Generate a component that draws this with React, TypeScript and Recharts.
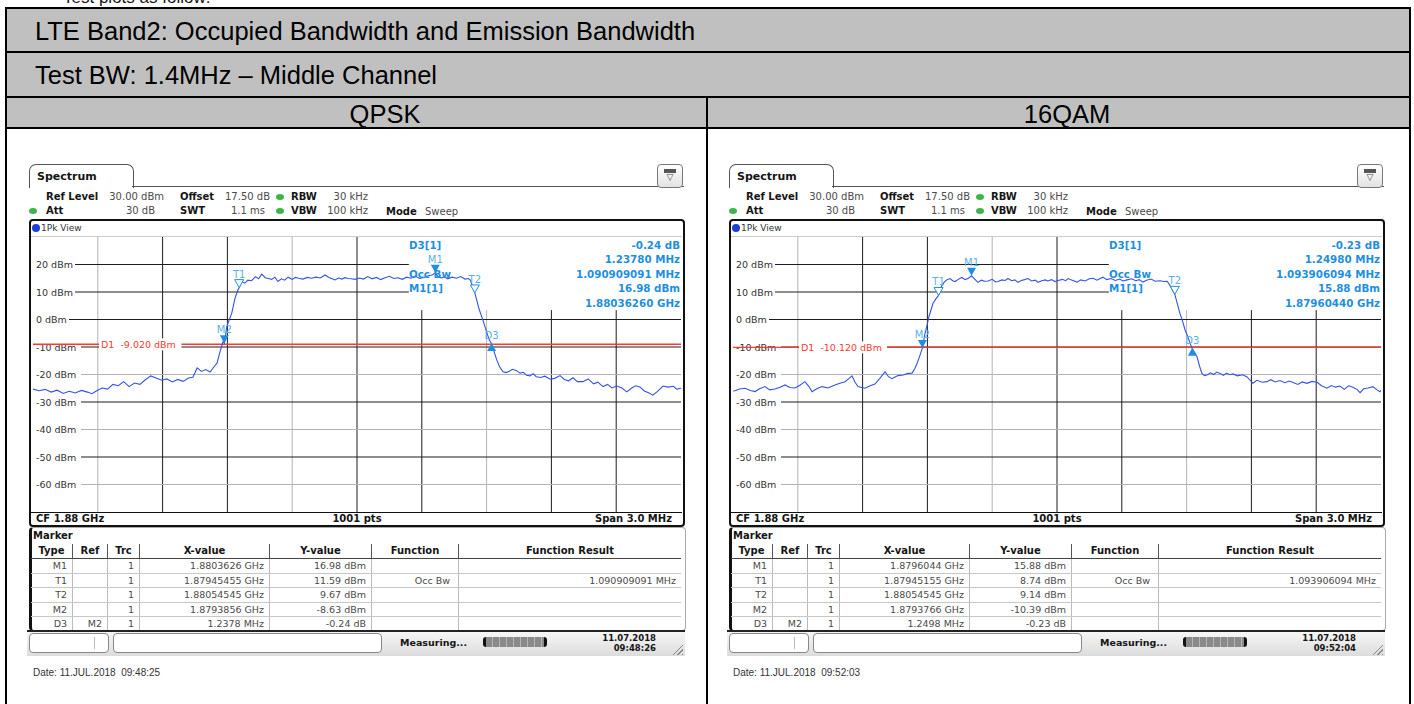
import React from "react";
import { LineChart, Line, XAxis, YAxis, ReferenceLine, ReferenceDot } from "recharts";

// Spectrum screenshots: frequency is an offset in MHz from the 1.88 GHz centre
const CENTER_GHZ = 1.88;
const SPAN_MHZ = [-1.5, 1.5];
const LEVEL_RANGE = [-70, 30];
const GRID_X = [-1.2, -0.9, -0.6, -0.3, 0, 0.3, 0.6, 0.9, 1.2];
const LEVEL_TICKS = [20, 10, 0, -10, -20, -30, -40, -50, -60];

// the marker readout box in the top right of each plot hides the grid
const INFO_LEFT_MHZ = 0.24;
const INFO_BOTTOM_DBM = 3.4;

const QPSK_TRACE: [number, number][] = [
  [-1.5, -25.3], [-1.472, -25.9], [-1.444, -25.4], [-1.416, -26.4], [-1.388, -25.7], [-1.36, -26.9],
  [-1.332, -26.1], [-1.304, -26.7], [-1.276, -25.8], [-1.248, -26.4], [-1.227, -27.0], [-1.205, -25.9],
  [-1.18, -24.9], [-1.155, -25.3], [-1.13, -23.6], [-1.105, -24.1], [-1.08, -22.6], [-1.055, -24.4],
  [-1.03, -23.1], [-1.005, -23.6], [-0.98, -21.9], [-0.955, -20.5], [-0.93, -21.3], [-0.905, -22.1],
  [-0.88, -21.6], [-0.855, -22.7], [-0.83, -21.8], [-0.805, -22.5], [-0.78, -21.3], [-0.76, -21.0],
  [-0.74, -17.6], [-0.72, -18.9], [-0.7, -18.2], [-0.68, -19.1], [-0.66, -17.0], [-0.648, -15.9],
  [-0.634, -11.7], [-0.62, -8.0], [-0.614, -8.63], [-0.603, -2.6], [-0.592, -0.2], [-0.58, 2.2],
  [-0.565, 7.7], [-0.552, 10.6], [-0.545, 11.59], [-0.534, 13.7], [-0.52, 13.2], [-0.505, 14.3],
  [-0.488, 14.1], [-0.47, 15.6], [-0.455, 14.8], [-0.441, 16.5], [-0.425, 15.2], [-0.41, 14.9],
  [-0.395, 14.6], [-0.38, 15.4], [-0.366, 13.8], [-0.35, 14.8], [-0.335, 14.3], [-0.319, 15.4],
  [-0.3, 14.6], [-0.285, 15.3], [-0.27, 15.0], [-0.25, 14.7], [-0.23, 15.3], [-0.21, 15.0],
  [-0.19, 15.4], [-0.17, 15.1], [-0.148, 16.2], [-0.13, 15.3], [-0.115, 14.8], [-0.102, 14.4],
  [-0.085, 15.1], [-0.07, 14.7], [-0.056, 15.2], [-0.04, 14.9], [-0.025, 14.8], [-0.009, 14.6],
  [0.01, 15.1], [0.03, 14.7], [0.05, 15.6], [0.07, 14.8], [0.09, 15.3], [0.11, 14.5],
  [0.13, 15.2], [0.15, 15.7], [0.17, 14.9], [0.19, 15.2], [0.21, 14.6], [0.23, 15.4],
  [0.25, 15.0], [0.27, 15.8], [0.29, 14.9], [0.31, 15.3], [0.33, 15.9], [0.35, 16.3],
  [0.3626, 16.98], [0.375, 15.6], [0.39, 15.1], [0.405, 15.5], [0.42, 14.8], [0.44, 15.4],
  [0.46, 15.0], [0.48, 15.6], [0.5, 14.7], [0.515, 14.9], [0.525, 14.3], [0.537, 11.5],
  [0.5455, 9.67], [0.554, 7.1], [0.565, 3.8], [0.583, -0.2], [0.6, -4.5], [0.612, -7.4],
  [0.6234, -8.87], [0.635, -11.8], [0.647, -14.7], [0.66, -17.2], [0.676, -19.0], [0.69, -19.3],
  [0.705, -18.8], [0.72, -18.1], [0.739, -18.6], [0.755, -19.5], [0.77, -19.2], [0.785, -20.3],
  [0.801, -20.5], [0.815, -19.7], [0.83, -20.8], [0.85, -21.1], [0.87, -20.6], [0.894, -21.7],
  [0.915, -21.4], [0.94, -20.4], [0.96, -21.8], [0.98, -22.3], [1.0, -21.2], [1.02, -22.6],
  [1.046, -22.6], [1.07, -21.6], [1.095, -23.4], [1.115, -22.8], [1.139, -24.4], [1.16, -23.6],
  [1.18, -24.9], [1.202, -24.2], [1.225, -24.8], [1.249, -26.3], [1.27, -25.0], [1.29, -24.1],
  [1.31, -24.5], [1.33, -26.0], [1.35, -26.6], [1.37, -27.5], [1.39, -26.2], [1.417, -24.2],
  [1.44, -24.6], [1.465, -24.3], [1.48, -25.3], [1.5, -25.0],
];

const QAM16_TRACE: [number, number][] = [
  [-1.5, -26.0], [-1.491, -25.9], [-1.47, -25.3], [-1.444, -25.0], [-1.42, -25.8], [-1.398, -26.2],
  [-1.375, -25.1], [-1.352, -24.4], [-1.33, -25.6], [-1.306, -25.3], [-1.282, -24.6], [-1.259, -23.8],
  [-1.236, -24.7], [-1.213, -24.9], [-1.19, -23.9], [-1.167, -22.6], [-1.15, -24.2], [-1.134, -26.3],
  [-1.11, -25.1], [-1.088, -24.4], [-1.06, -24.9], [-1.028, -23.8], [-1.005, -23.2], [-0.981, -22.6],
  [-0.965, -21.6], [-0.949, -20.5], [-0.935, -22.8], [-0.921, -24.4], [-0.905, -24.7], [-0.889, -25.0],
  [-0.865, -24.1], [-0.843, -23.5], [-0.82, -21.4], [-0.796, -19.0], [-0.78, -20.8], [-0.764, -21.5],
  [-0.75, -20.9], [-0.736, -20.4], [-0.712, -20.2], [-0.69, -19.6], [-0.671, -19.5], [-0.658, -17.8],
  [-0.648, -16.0], [-0.636, -13.4], [-0.6234, -10.39], [-0.611, -5.0], [-0.602, -2.2], [-0.593, 1.0],
  [-0.574, 5.9], [-0.56, 7.6], [-0.5485, 8.74], [-0.534, 12.2], [-0.522, 13.6], [-0.511, 14.4],
  [-0.495, 14.9], [-0.483, 14.1], [-0.472, 13.8], [-0.457, 14.6], [-0.441, 15.3], [-0.425, 14.5],
  [-0.41, 15.0], [-0.3956, 15.88], [-0.38, 14.6], [-0.366, 13.5], [-0.35, 14.3], [-0.335, 13.9],
  [-0.319, 14.0], [-0.3, 14.6], [-0.285, 13.7], [-0.273, 13.8], [-0.255, 14.4], [-0.24, 14.2],
  [-0.227, 14.9], [-0.21, 14.1], [-0.195, 14.4], [-0.181, 13.5], [-0.165, 14.2], [-0.15, 14.5],
  [-0.134, 14.9], [-0.118, 14.0], [-0.1, 14.3], [-0.088, 13.5], [-0.07, 14.1], [-0.055, 14.4],
  [-0.042, 14.0], [-0.025, 14.5], [-0.01, 13.8], [0.005, 14.2], [0.025, 14.6], [0.04, 14.1],
  [0.051, 14.9], [0.07, 14.3], [0.093, 13.6], [0.11, 14.4], [0.13, 14.0], [0.15, 14.8],
  [0.167, 15.0], [0.185, 14.3], [0.2, 14.9], [0.213, 15.4], [0.23, 14.5], [0.25, 14.9],
  [0.27, 14.2], [0.29, 14.7], [0.305, 14.0], [0.324, 14.4], [0.345, 14.8], [0.365, 14.1],
  [0.38, 14.5], [0.398, 13.6], [0.415, 14.3], [0.435, 14.7], [0.455, 13.9], [0.477, 14.1],
  [0.495, 13.8], [0.51, 13.9], [0.523, 12.4], [0.5455, 9.14], [0.557, 5.8], [0.569, 2.2],
  [0.581, -0.5], [0.593, -3.8], [0.605, -6.2], [0.616, -8.6], [0.6264, -10.62], [0.638, -12.1],
  [0.648, -13.5], [0.66, -17.0], [0.671, -19.6], [0.683, -20.4], [0.694, -20.2], [0.71, -19.4],
  [0.725, -20.0], [0.74, -19.1], [0.755, -19.6], [0.77, -20.3], [0.785, -19.5], [0.8, -20.1],
  [0.815, -19.8], [0.835, -20.5], [0.86, -20.1], [0.88, -20.9], [0.907, -23.2], [0.925, -22.1],
  [0.95, -22.8], [0.972, -22.6], [0.99, -21.9], [1.01, -22.7], [1.032, -22.2], [1.055, -23.0],
  [1.075, -22.4], [1.093, -22.9], [1.115, -23.6], [1.135, -22.7], [1.157, -23.2], [1.18, -22.5],
  [1.204, -22.8], [1.225, -24.1], [1.25, -25.0], [1.27, -24.0], [1.29, -24.6], [1.31, -24.2],
  [1.33, -25.4], [1.35, -24.1], [1.37, -24.6], [1.39, -25.5], [1.403, -26.6], [1.42, -25.2],
  [1.44, -24.9], [1.463, -24.4], [1.48, -25.5], [1.495, -26.3], [1.5, -25.8],
];

type Marker = { id: string; ghz: number; level: number; kind: "M" | "T" | "D" };

const QPSK_MARKERS: Marker[] = [
  { id: "M1", ghz: 1.8803626, level: 16.98, kind: "M" },
  { id: "T1", ghz: 1.87945455, level: 11.59, kind: "T" },
  { id: "T2", ghz: 1.88054545, level: 9.67, kind: "T" },
  { id: "M2", ghz: 1.8793856, level: -8.63, kind: "M" },
  { id: "D3", ghz: 1.8793856 + 0.0012378, level: -8.63 - 0.24, kind: "D" },
];
const QAM16_MARKERS: Marker[] = [
  { id: "M1", ghz: 1.8796044, level: 15.88, kind: "M" },
  { id: "T1", ghz: 1.87945155, level: 8.74, kind: "T" },
  { id: "T2", ghz: 1.88054545, level: 9.14, kind: "T" },
  { id: "M2", ghz: 1.8793766, level: -10.39, kind: "M" },
  { id: "D3", ghz: 1.8793766 + 0.0012498, level: -10.39 - 0.23, kind: "D" },
];

const QPSK_D1 = -9.02;
const QAM16_D1 = -10.12;

const QPSK_INFO_LEFT = ["D3[1]", "", "Occ Bw", "M1[1]", ""];
const QPSK_INFO_RIGHT = ["-0.24 dB", "1.23780 MHz", "1.090909091 MHz", "16.98 dBm", "1.88036260 GHz"];
const QAM16_INFO_LEFT = ["D3[1]", "", "Occ Bw", "M1[1]", ""];
const QAM16_INFO_RIGHT = ["-0.23 dB", "1.24980 MHz", "1.093906094 MHz", "15.88 dBm", "1.87960440 GHz"];

const TABLE_HEAD = ["Type", "Ref", "Trc", "X-value", "Y-value", "Function", "Function Result"];
const QPSK_ROWS = [
  ["M1", "", "1", "1.8803626 GHz", "16.98 dBm", "", ""],
  ["T1", "", "1", "1.87945455 GHz", "11.59 dBm", "Occ Bw", "1.090909091 MHz"],
  ["T2", "", "1", "1.88054545 GHz", "9.67 dBm", "", ""],
  ["M2", "", "1", "1.8793856 GHz", "-8.63 dBm", "", ""],
  ["D3", "M2", "1", "1.2378 MHz", "-0.24 dB", "", ""],
];
const QAM16_ROWS = [
  ["M1", "", "1", "1.8796044 GHz", "15.88 dBm", "", ""],
  ["T1", "", "1", "1.87945155 GHz", "8.74 dBm", "Occ Bw", "1.093906094 MHz"],
  ["T2", "", "1", "1.88054545 GHz", "9.14 dBm", "", ""],
  ["M2", "", "1", "1.8793766 GHz", "-10.39 dBm", "", ""],
  ["D3", "M2", "1", "1.2498 MHz", "-0.23 dB", "", ""],
];

const QPSK_STAMP = ["11.07.2018", "09:48:26"];
const QAM16_STAMP = ["11.07.2018", "09:52:04"];
const QPSK_DATE = "Date: 11.JUL.2018  09:48:25";
const QAM16_DATE = "Date: 11.JUL.2018  09:52:03";

// styling
const UI_FONT = "'DejaVu Sans', Verdana, sans-serif";
const DOC_FONT = "'Liberation Sans', Arial, sans-serif";
const INK = "#151515";
const VALUE = "#4a4a4a";
const MARK = "#1e8fe0";
const TRACE = "#3552e6";
const LIMIT = "#ff3b2f";
const GRID_DARK = "#1c1c1c";
const GRID_LIGHT = "#b4b4b4";
const GRID_X_DARK = [false, true, true, false, true, true, false, true, true];
const LEVEL_DARK = [true, true, true, true, false, true, false, true, false];
const COL_W = [42, 35, 32, 130, 102, 87, 222];

function Txt({ x, y, size = 10, bold = false, color = INK, align = "left", font = UI_FONT, children }: any) {
  const s: React.CSSProperties = {
    position: "absolute", top: y - size, height: size * 2, lineHeight: `${size * 2}px`,
    fontSize: size, fontFamily: font, fontWeight: bold ? "bold" : "normal", color, whiteSpace: "pre",
  };
  if (align === "left") s.left = x;
  else if (align === "right") { s.left = x - 400; s.width = 400; s.textAlign = "right"; }
  else { s.left = x - 200; s.width = 400; s.textAlign = "center"; }
  return <div style={s}>{children}</div>;
}

function Dot({ x, y, color = "#3cb64a" }: any) {
  return <div style={{ position: "absolute", left: x - 4, top: y - 3, width: 8, height: 6, borderRadius: "50%", background: color }} />;
}

function LevelLabel({ x1, y1, value }: any) {
  const text = `${value} dBm`;
  return (
    <g>
      <rect x={x1} y={y1 - 6} width={text.length * 6 + 6} height={12} fill="#fff" />
      <text x={x1 + 3} y={y1 + 3.5} fontSize={9.5} fontFamily={UI_FONT} fill="#333">{text}</text>
    </g>
  );
}

function LimitLine({ x1, x2, y1, value }: any) {
  const text = `D1  ${value.toFixed(3)} dBm`;
  return (
    <g>
      <line x1={x1} x2={x2} y1={y1} y2={y1} stroke={LIMIT} strokeWidth={1.4} />
      <rect x={x1 + 66} y={y1 - 6} width={text.length * 5.6 + 4} height={12} fill="#fff" />
      <text x={x1 + 68} y={y1 + 3.5} fontSize={9.5} fontFamily={UI_FONT} fill={LIMIT} style={{ whiteSpace: "pre" }}>{text}</text>
    </g>
  );
}

function MarkerGlyph({ cx, cy, id, kind }: any) {
  if (cx == null || cy == null) return null;
  if (kind === "D") {
    return (
      <g>
        <polygon points={`${cx - 4.5},${cy + 7} ${cx + 4.5},${cy + 7} ${cx},${cy - 1}`} fill={MARK} />
        <text x={cx} y={cy - 4.5} fontSize={10} fontFamily={UI_FONT} fill="#55b2ee" textAnchor="middle">{id}</text>
      </g>
    );
  }
  return (
    <g>
      <polygon points={`${cx - 4.5},${cy - 8} ${cx + 4.5},${cy - 8} ${cx},${cy}`}
        fill={kind === "M" ? MARK : "#fff"} stroke={MARK} strokeWidth={kind === "M" ? 0 : 1} />
      <text x={cx} y={cy - 10} fontSize={10} fontFamily={UI_FONT} fill="#55b2ee" textAnchor="middle">{id}</text>
    </g>
  );
}

function Plot({ trace, markers, d1 }: { trace: [number, number][]; markers: Marker[]; d1: number }) {
  const data = trace.map(([f, level]) => ({ f, level }));
  return (
    <LineChart width={648} height={275} data={data} margin={{ top: 0, right: 0, bottom: 0, left: 0 }}>
      <XAxis type="number" dataKey="f" domain={SPAN_MHZ} hide allowDataOverflow />
      <YAxis type="number" domain={LEVEL_RANGE} hide allowDataOverflow />
      {GRID_X.map((g, i) => (
        <ReferenceLine key={`gx${i}`}
          segment={[{ x: g, y: LEVEL_RANGE[0] }, { x: g, y: g > INFO_LEFT_MHZ ? INFO_BOTTOM_DBM : LEVEL_RANGE[1] }]}
          stroke={GRID_X_DARK[i] ? GRID_DARK : GRID_LIGHT} strokeWidth={1} />
      ))}
      {LEVEL_TICKS.map((v, i) => (
        <ReferenceLine key={`gy${i}`}
          segment={[{ x: SPAN_MHZ[0], y: v }, { x: v > INFO_BOTTOM_DBM ? INFO_LEFT_MHZ : SPAN_MHZ[1], y: v }]}
          stroke={LEVEL_DARK[i] ? GRID_DARK : GRID_LIGHT} strokeWidth={1} />
      ))}
      {LEVEL_TICKS.map((v) => (
        <ReferenceLine key={`ly${v}`} y={v} stroke="none" shape={(p: any) => <LevelLabel {...p} value={v} />} />
      ))}
      <ReferenceLine y={d1} shape={(p: any) => <LimitLine {...p} value={d1} />} />
      <Line type="linear" dataKey="level" stroke={TRACE} strokeWidth={1.1} dot={false} isAnimationActive={false} />
      {markers.map((m) => (
        <ReferenceDot key={m.id} x={(m.ghz - CENTER_GHZ) * 1000} y={m.level} r={0}
          shape={(p: any) => <MarkerGlyph cx={p.cx} cy={p.cy} id={m.id} kind={m.kind} />} />
      ))}
    </LineChart>
  );
}

function MarkerTable({ x, rows }: { x: number; rows: string[][] }) {
  const cols = COL_W.map((w) => `${w}px`).join(" ");
  return (
    <div style={{ position: "absolute", left: x, top: 544, width: 650, fontFamily: UI_FONT }}>
      <div style={{ display: "grid", gridTemplateColumns: cols, height: 14, borderBottom: "1.5px solid #444" }}>
        {TABLE_HEAD.map((h, i) => (
          <div key={h} style={{ fontSize: 10, fontWeight: "bold", color: INK, textAlign: "center", lineHeight: "14px",
            borderRight: i < 6 ? "1.5px solid #555" : "none" }}>{h}</div>
        ))}
      </div>
      {rows.map((r, ri) => (
        <div key={ri} style={{ display: "grid", gridTemplateColumns: cols, height: 13.5, borderBottom: "1px solid #c8c8c8" }}>
          {r.map((c, ci) => (
            <div key={ci} style={{ fontSize: 9.5, color: VALUE, textAlign: "right", lineHeight: "13.5px",
              paddingRight: ci === 5 ? 8 : 5, borderRight: ci < 6 ? "1px solid #bbb" : "none", whiteSpace: "nowrap" }}>{c}</div>
          ))}
        </div>
      ))}
    </div>
  );
}

function Panel(props: {
  ox: number; trace: [number, number][]; markers: Marker[]; d1: number;
  infoLeft: string[]; infoRight: string[]; rows: string[][]; stamp: string[]; date: string;
}) {
  const { ox } = props;
  return (
    <>
      {/* tab */}
      <div style={{ position: "absolute", left: ox + 29, top: 164, width: 103, height: 23, border: "1.5px solid #555",
        borderBottom: "none", borderRadius: "7px 7px 0 0", background: "#fff" }} />
      <div style={{ position: "absolute", left: ox + 132, top: 186, width: 552, borderTop: "1.5px solid #555" }} />
      <Txt x={ox + 37} y={177} size={11} bold>Spectrum</Txt>
      <div style={{ position: "absolute", left: ox + 657, top: 164, width: 24, height: 22, border: "1px solid #777",
        borderRadius: 4, background: "linear-gradient(#fff,#e2e2e2)" }}>
        <div style={{ position: "absolute", left: 6, top: 4, width: 12, height: 4, background: "#555" }} />
        <div style={{ position: "absolute", left: 0, top: 7, width: 24, textAlign: "center", fontSize: 9, color: "#444", fontFamily: UI_FONT }}>▽</div>
      </div>

      {/* settings */}
      <Txt x={ox + 46} y={197} bold>Ref Level</Txt>
      <Txt x={ox + 164} y={197} color={VALUE} align="right">30.00 dBm</Txt>
      <Txt x={ox + 180} y={197} bold>Offset</Txt>
      <Txt x={ox + 270} y={197} color={VALUE} align="right">17.50 dB</Txt>
      <Dot x={ox + 280} y={197} />
      <Txt x={ox + 291} y={197} bold>RBW</Txt>
      <Txt x={ox + 368} y={197} color={VALUE} align="right">30 kHz</Txt>
      <Dot x={ox + 33} y={211} />
      <Txt x={ox + 46} y={211} bold>Att</Txt>
      <Txt x={ox + 155} y={211} color={VALUE} align="right">30 dB</Txt>
      <Txt x={ox + 180} y={211} bold>SWT</Txt>
      <Txt x={ox + 265} y={211} color={VALUE} align="right">1.1 ms</Txt>
      <Dot x={ox + 280} y={211} />
      <Txt x={ox + 291} y={211} bold>VBW</Txt>
      <Txt x={ox + 368} y={211} color={VALUE} align="right">100 kHz</Txt>
      <Txt x={ox + 386} y={212} bold>Mode</Txt>
      <Txt x={ox + 425} y={212} color={VALUE}>Sweep</Txt>

      {/* plot window */}
      <div style={{ position: "absolute", left: ox + 29, top: 219, width: 652, height: 304, border: "2px solid #111",
        borderRadius: 4, background: "#fff" }} />
      <div style={{ position: "absolute", left: ox + 31, top: 236, width: 651, borderTop: "1px solid #ccc" }} />
      <div style={{ position: "absolute", left: ox + 32, top: 224, width: 8, height: 8, borderRadius: "50%", background: "#1a3fd8" }} />
      <Txt x={ox + 41} y={228} size={9} color="#333">1Pk View</Txt>
      <div style={{ position: "absolute", left: ox + 33, top: 237 }}>
        <Plot trace={props.trace} markers={props.markers} d1={props.d1} />
      </div>
      {props.infoLeft.map((t, i) => (
        <Txt key={`il${i}`} x={ox + 409} y={245 + i * 14.5} size={10.3} bold color={MARK}>{t}</Txt>
      ))}
      {props.infoRight.map((t, i) => (
        <Txt key={`ir${i}`} x={ox + 680} y={245 + i * 14.5} size={10.3} bold color={MARK} align="right">{t}</Txt>
      ))}
      <div style={{ position: "absolute", left: ox + 31, top: 512, width: 651, borderTop: "1.5px solid #111" }} />
      <Txt x={ox + 36} y={519} bold size={10}>CF 1.88 GHz</Txt>
      <Txt x={ox + 357} y={519} bold size={10} align="center">1001 pts</Txt>
      <Txt x={ox + 672} y={519} bold size={10} align="right">Span 3.0 MHz</Txt>

      {/* marker table */}
      <div style={{ position: "absolute", left: ox + 29, top: 527, width: 653, height: 102, border: "1px solid #aaa",
        borderLeft: "3px solid #111", borderRadius: 4 }} />
      <Txt x={ox + 33} y={536} bold size={10}>Marker</Txt>
      <MarkerTable x={ox + 31} rows={props.rows} />

      {/* status bar */}
      <div style={{ position: "absolute", left: ox + 27, top: 630, width: 658, height: 24,
        borderTop: "2px solid #222", background: "linear-gradient(#f6f6f6,#dcdcdc)" }} />
      <div style={{ position: "absolute", left: ox + 29, top: 633, width: 78, height: 18, border: "1px solid #888", borderRadius: 4, background: "#fff" }}>
        <div style={{ position: "absolute", left: 64, top: 3, height: 12, borderLeft: "1px solid #bbb" }} />
      </div>
      <div style={{ position: "absolute", left: ox + 113, top: 633, width: 267, height: 18, border: "1px solid #888", borderRadius: 4, background: "#fff" }} />
      <Txt x={ox + 400} y={642} bold size={9.5}>Measuring...</Txt>
      <div style={{ position: "absolute", left: ox + 483, top: 637, width: 64, height: 10, borderRadius: 3, background: "#111", padding: "0 3px", boxSizing: "border-box" }}>
        <div style={{ width: "100%", height: "100%", background: "repeating-linear-gradient(90deg,#8a8a8a 0 6px,#b5b5b5 6px 7px)" }} />
      </div>
      <Txt x={ox + 656} y={638} bold size={8.5} align="right">{props.stamp[0]}</Txt>
      <Txt x={ox + 656} y={648} bold size={8.5} align="right">{props.stamp[1]}</Txt>
      <div style={{ position: "absolute", left: ox + 670, top: 642, width: 13, height: 13,
        background: "repeating-linear-gradient(135deg,transparent 0 2px,#888 2px 3px)", clipPath: "polygon(100% 0,100% 100%,0 100%)" }} />

      <Txt x={ox + 33} y={673} size={10} color="#333" font={DOC_FONT}>{props.date}</Txt>
    </>
  );
}

export default function App() {
  const gray = "#c0c0c0";
  return (
    <div style={{ position: "absolute", left: 0, top: 0, width: 1414, height: 704, overflow: "hidden", background: "#fff" }}>
      <Txt x={63} y={-2} size={17} font={DOC_FONT}>Test plots as follow:</Txt>
      {/* document table */}
      <div style={{ position: "absolute", left: 5, top: 7, width: 1406, height: 44, background: gray, borderTop: "2px solid #000", borderLeft: "2px solid #000", borderRight: "2px solid #000", boxSizing: "border-box" }} />
      <div style={{ position: "absolute", left: 5, top: 51, width: 1406, height: 45, background: gray, borderTop: "2px solid #000", borderLeft: "2px solid #000", borderRight: "2px solid #000", boxSizing: "border-box" }} />
      <div style={{ position: "absolute", left: 5, top: 96, width: 1406, height: 33, background: gray, borderTop: "2px solid #000", borderLeft: "2px solid #000", borderRight: "2px solid #000", boxSizing: "border-box" }} />
      <div style={{ position: "absolute", left: 5, top: 127, width: 1406, height: 600, borderTop: "2px solid #000", borderLeft: "2px solid #000", borderRight: "2px solid #000", boxSizing: "border-box" }} />
      <div style={{ position: "absolute", left: 706, top: 96, width: 2, height: 620, background: "#000" }} />
      <Txt x={35} y={31} size={25.5} font={DOC_FONT} color="#000">LTE Band2: Occupied Bandwidth and Emission Bandwidth</Txt>
      <Txt x={35} y={75} size={25.5} font={DOC_FONT} color="#000">Test BW: 1.4MHz – Middle Channel</Txt>
      <Txt x={385} y={114} size={25.5} font={DOC_FONT} color="#000" align="center">QPSK</Txt>
      <Txt x={1067} y={114} size={25.5} font={DOC_FONT} color="#000" align="center">16QAM</Txt>

      <Panel ox={0} trace={QPSK_TRACE} markers={QPSK_MARKERS} d1={QPSK_D1}
        infoLeft={QPSK_INFO_LEFT} infoRight={QPSK_INFO_RIGHT} rows={QPSK_ROWS} stamp={QPSK_STAMP} date={QPSK_DATE} />
      <Panel ox={700} trace={QAM16_TRACE} markers={QAM16_MARKERS} d1={QAM16_D1}
        infoLeft={QAM16_INFO_LEFT} infoRight={QAM16_INFO_RIGHT} rows={QAM16_ROWS} stamp={QAM16_STAMP} date={QAM16_DATE} />
    </div>
  );
}
